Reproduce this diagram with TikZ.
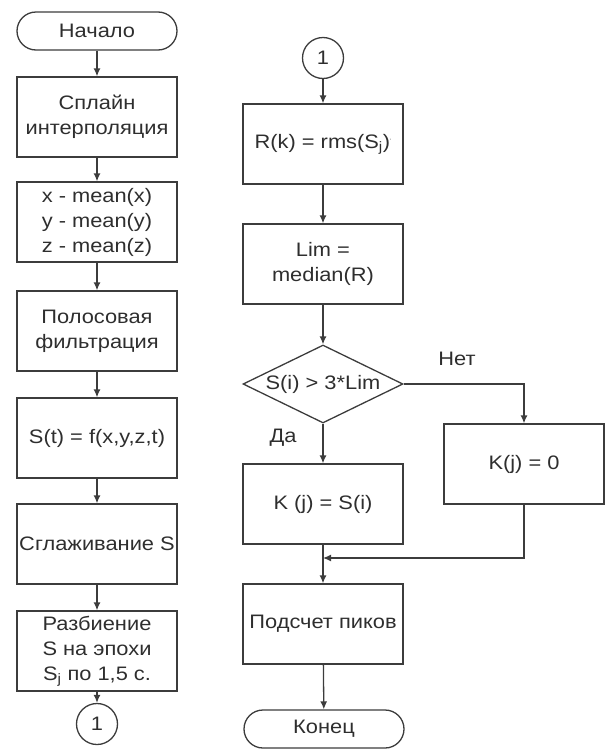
\documentclass[tikz,border=0pt]{standalone}
\usepackage{fontspec}
\setmainfont[FakeStretch=1.12]{Liberation Sans}
\usetikzlibrary{arrows.meta,shapes.geometric}
\definecolor{ln}{HTML}{3C3C3C}
\definecolor{tx}{HTML}{2E2E2E}
\tikzset{
  base/.style={draw=ln, line width=1.3pt, text=tx, inner sep=0pt, align=center,
    font=\fontsize{19.5}{25}\selectfont},
  proc/.style={base, rectangle, minimum width=160pt, minimum height=80pt},
  term/.style={base, rectangle, rounded corners=19pt, minimum width=160pt, minimum height=38pt},
  conn/.style={base, circle, minimum size=41pt},
  deci/.style={base, diamond, shape aspect=2, minimum width=160pt, minimum height=78pt},
  arr/.style={draw=ln, line width=1.3pt, -{Latex[length=8pt,width=7pt]}},
  lbl/.style={text=tx, font=\fontsize{19.5}{22}\selectfont, inner sep=0pt}
}
\begin{document}
\begin{tikzpicture}[x=1pt,y=-1pt]
\useasboundingbox (0,0) rectangle (609,750);
% left column
\node[term] (start) at (97,31) {Начало};
\node[proc] (b1) at (97,117) {Сплайн\\интерполяция};
\node[proc] (b2) at (97,222) {x - mean(x)\\y - mean(y)\\z - mean(z)};
\node[proc] (b3) at (97,331) {Полосовая\\фильтрация};
\node[proc] (b4) at (97,438) {S(t) = f(x,y,z,t)};
\node[proc] (b5) at (97,544) {Сглаживание S};
\node[proc] (b6) at (97,651) {Разбиение\\S на эпохи\\S\textsubscript{j} по 1,5 с.};
\node[conn] (c1) at (97,724) {1};
\draw[arr] (start) -- (b1);
\draw[arr] (b1) -- (b2);
\draw[arr] (b2) -- (b3);
\draw[arr] (b3) -- (b4);
\draw[arr] (b4) -- (b5);
\draw[arr] (b5) -- (b6);
\draw[arr] (b6) -- (c1);
% right column
\node[conn] (c2) at (323,58) {1};
\node[proc] (r1) at (323,144) {R(k) = rms(S\textsubscript{j})\raisebox{0.5ex}{\tiny`}};
\node[proc] (r2) at (323,264) {Lim =\\median(R)};
\node[deci] (d) at (323,384) {S(i) > 3*Lim};
\node[proc] (ky) at (323,504) {K (j) = S(i)};
\node[proc] (kn) at (524,464) {K(j) = 0};
\node[proc] (pk) at (323,624) {Подсчет пиков};
\node[term] (end) at (324,729) {Конец};
\coordinate (m) at (323,558);
\node[lbl] (no) at (457,359) {Нет};
\node[lbl] (yes) at (283,438) {Да};
\draw[arr] (c2) -- (r1);
\draw[arr] (r1) -- (r2);
\draw[arr] (r2) -- (d);
\draw[arr] (d.east) -| (kn.north);
\draw[arr] (d.south) -- (ky.north);
\draw[arr] (kn.south) |- (m);
\draw[arr] (ky) -- (pk);
\draw[arr] (pk) -- (end);
\end{tikzpicture}
\end{document}
